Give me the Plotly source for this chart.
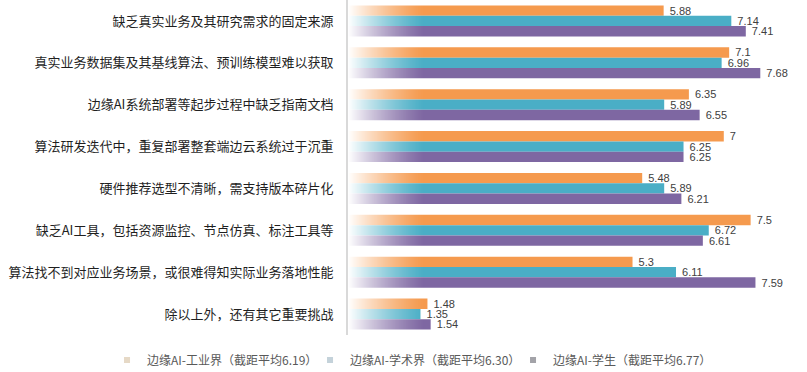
import base64, struct, zlib
import plotly.graph_objects as go

categories = [
    "缺乏真实业务及其研究需求的固定来源",
    "真实业务数据集及其基线算法、预训练模型难以获取",
    "边缘AI系统部署等起步过程中缺乏指南文档",
    "算法研发迭代中，重复部署整套端边云系统过于沉重",
    "硬件推荐选型不清晰，需支持版本碎片化",
    "缺乏AI工具，包括资源监控、节点仿真、标注工具等",
    "算法找不到对应业务场景，或很难得知实际业务落地性能",
    "除以上外，还有其它重要挑战",
]
industry = [5.88, 7.1, 6.35, 7, 5.48, 7.5, 5.3, 1.48]
academia = [7.14, 6.96, 5.89, 6.25, 5.89, 6.72, 6.11, 1.35]
students = [7.41, 7.68, 6.55, 6.25, 6.21, 6.61, 7.59, 1.54]
series_names = [
    "边缘AI-工业界（截距平均6.19）",
    "边缘AI-学术界（截距平均6.30）",
    "边缘AI-学生（截距平均6.77）",
]
colors = ["#F59A4E", "#4AAEC6", "#7E67A2"]
legend_colors = ["#E6D9C6", "#C4D2DA", "#A3A3A8"]


def gradient_png(w=128):
    row = b"\x00"
    for i in range(w):
        t = i / (w - 1)
        a = int(255 * (1 - t) ** 1.3)
        row += bytes([255, 255, 255, a])
    def chunk(tag, data):
        c = struct.pack(">I", len(data)) + tag + data
        return c + struct.pack(">I", zlib.crc32(tag + data) & 0xFFFFFFFF)
    png = b"\x89PNG\r\n\x1a\n"
    png += chunk(b"IHDR", struct.pack(">IIBBBBB", w, 1, 8, 6, 0, 0, 0))
    png += chunk(b"IDAT", zlib.compress(row))
    png += chunk(b"IEND", b"")
    return "data:image/png;base64," + base64.b64encode(png).decode()


fig = go.Figure()
for name, vals, col in zip(series_names, [industry, academia, students], colors):
    fig.add_trace(go.Bar(
        y=categories, x=vals, orientation="h", name=name,
        marker=dict(color=col, line=dict(width=0)),
        texttemplate="\u00a0%{x}", textposition="outside",
        textfont=dict(size=11, color="#404040", family="Liberation Sans, Arial"),
        constraintext="none", cliponaxis=False, showlegend=False,
    ))
for name, lc in zip(series_names, legend_colors):
    fig.add_trace(go.Scatter(
        x=[None], y=[None], mode="markers", name=name,
        marker=dict(symbol="square", size=6, color=lc),
    ))

fig.add_layout_image(dict(
    source=gradient_png(), xref="x", yref="paper", x=0, y=1,
    sizex=1.45, sizey=1, sizing="stretch", layer="above", xanchor="left", yanchor="top",
))

fig.update_layout(
    width=807, height=372,
    margin=dict(l=348, r=0, t=0, b=37, autoexpand=False),
    paper_bgcolor="white", plot_bgcolor="white",
    barmode="group", bargap=0.26, bargroupgap=0,
    font=dict(family="Noto Sans CJK SC", size=12, color="#1f1f1f"),
    xaxis=dict(range=[0, 8.55], visible=False, showgrid=False, zeroline=False),
    yaxis=dict(autorange="reversed", showline=True, linecolor="#D9D9D9", linewidth=2,
               ticks="", ticklabelstandoff=10, showgrid=False,
               tickfont=dict(size=13, color="#1f1f1f")),
    legend=dict(orientation="h", xref="paper", yref="paper",
                x=-0.525, xanchor="left", y=-0.0746, yanchor="middle",
                font=dict(size=12, color="#595959"), itemwidth=30,
                entrywidth=158, entrywidthmode="pixels",
                tracegroupgap=0),
)
fig.write_html("out.html", post_script="document.body.style.margin='0';",
               config={"displayModeBar": False})
